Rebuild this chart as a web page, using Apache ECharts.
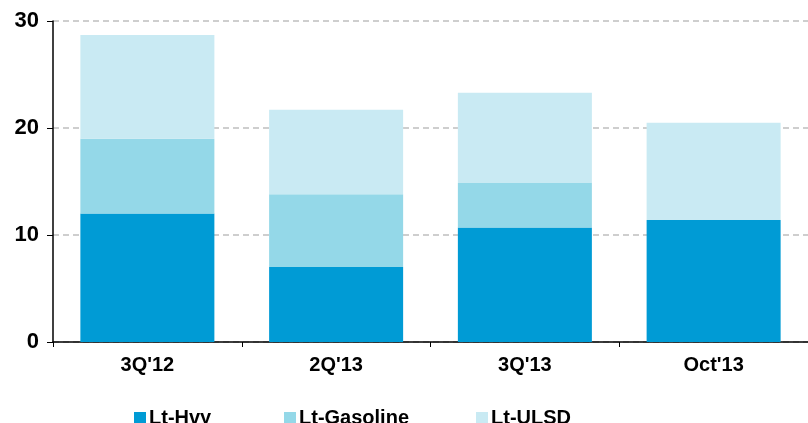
<!DOCTYPE html>
<html>
<head>
<meta charset="utf-8">
<script src="https://cdn.jsdelivr.net/npm/echarts@6/dist/echarts.min.js"></script>
<style>
  html, body { margin: 0; padding: 0; background: #fff; }
  #chart { width: 808px; height: 423px; }
</style>
</head>
<body>
<div id="chart"></div>
<script>
// Chart data
const categories = ["3Q'12", "2Q'13", "3Q'13", "Oct'13"];
const seriesNames = ['Lt-Hvy', 'Lt-Gasoline', 'Lt-ULSD'];
const ltHvy = [12.0, 7.0, 10.7, 11.4];
const ltGasoline = [7.0, 6.8, 4.2, 0];
const ltUlsd = [9.7, 7.9, 8.4, 9.1];
const yTicks = [0, 10, 20, 30];

const chart = echarts.init(document.getElementById('chart'));

const font = 'Liberation Sans, Arial, sans-serif';
const legendLefts = [129, 279, 471];

// one legend per item so each sits where the original has it
const legends = seriesNames.map((name, i) => ({
  data: [name],
  left: legendLefts[i],
  top: 403,
  itemWidth: 12,
  itemHeight: 12,
  itemGap: 6,
  icon: 'rect',
  textStyle: { fontSize: 20, fontWeight: 'bold', color: '#000', fontFamily: font, padding: [0, 0, 0, -2] }
}));

const option = {
  animation: false,
  textStyle: { fontFamily: font },
  legend: legends,
  grid: {
    left: 53,
    right: 0,
    top: 21,
    bottom: 81
  },
  xAxis: {
    type: 'category',
    data: categories,
    axisLine: { lineStyle: { color: '#000', width: 1.5 } },
    axisTick: { show: true, length: 5, lineStyle: { color: '#000' } },
    axisLabel: { fontSize: 20, fontWeight: 'bold', color: '#000', margin: 13 }
  },
  yAxis: {
    type: 'value',
    min: yTicks[0],
    max: yTicks[yTicks.length - 1],
    interval: 10,
    axisLine: { show: true, lineStyle: { color: '#000', width: 1.5 } },
    axisTick: { show: true, length: 6, lineStyle: { color: '#000' } },
    axisLabel: { fontSize: 22, fontWeight: 'bold', color: '#000', margin: 14 },
    splitLine: { lineStyle: { color: '#bfbfbf', type: [6, 4], width: 1.5 } }
  },
  series: [
    {
      name: seriesNames[0],
      type: 'bar',
      stack: 'total',
      barWidth: '71%',
      data: ltHvy,
      itemStyle: { color: '#009bd5' }
    },
    {
      name: seriesNames[1],
      type: 'bar',
      stack: 'total',
      data: ltGasoline,
      itemStyle: { color: '#94d8e8' }
    },
    {
      name: seriesNames[2],
      type: 'bar',
      stack: 'total',
      data: ltUlsd,
      itemStyle: { color: '#c9eaf3' }
    }
  ]
};

chart.setOption(option);
</script>
</body>
</html>
